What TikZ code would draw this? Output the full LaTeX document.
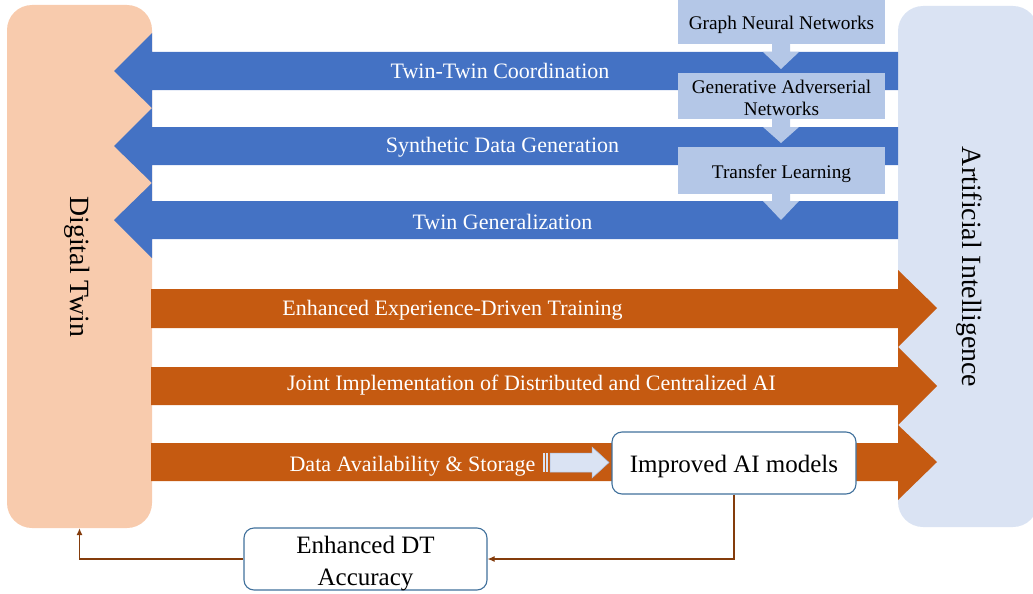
\documentclass[tikz,border=0pt]{standalone}
\usepackage{fontspec}
\setmainfont{Liberation Serif}
\usetikzlibrary{arrows.meta}
\definecolor{dtfill}{HTML}{F8CBAD}
\definecolor{aifill}{HTML}{DAE3F3}
\definecolor{bluebar}{HTML}{4472C4}
\definecolor{orangebar}{HTML}{C55A11}
\definecolor{lightbox}{HTML}{B4C7E7}
\definecolor{boxborder}{HTML}{41719C}
\definecolor{brownline}{HTML}{843C0C}
\definecolor{stripeline}{HTML}{A9BEE0}
\tikzset{
  bigbox/.style={inner sep=0pt, rounded corners=25pt},
  barlabel/.style={text=white, font=\fontsize{22}{26}\selectfont, inner sep=0pt},
  techbox/.style={fill=lightbox, inner sep=0pt, minimum width=207pt},
  techlabel/.style={inner sep=0pt, align=center, font=\fontsize{19.3}{22}\selectfont},
  resultbox/.style={draw=boxborder, line width=1.1pt, fill=white, rounded corners=10pt, inner sep=0pt, minimum width=244pt, minimum height=62pt},
  resultlabel/.style={inner sep=0pt, align=center, font=\fontsize{25}{32}\selectfont},
  feedback/.style={draw=brownline, line width=1.1pt, -{Latex[length=7pt,width=6pt]}},
  sidelabel/.style={rotate=-90, font=\fontsize{27.8}{32}\selectfont, inner sep=0pt}
}
\begin{document}
\begin{tikzpicture}[x=1pt,y=-1pt]
\useasboundingbox (0,0) rectangle (1033,594);
% side boxes
\node[bigbox, fill=dtfill, minimum width=145pt, minimum height=523pt] (dt) at (79.5,266.5) {};
\node[bigbox, fill=aifill, minimum width=140pt, minimum height=521pt] (ai) at (968,266.5) {};
\node[sidelabel] (dtl) at (77,267) {Digital Twin};
\node[sidelabel] (ail) at (969.5,267) {Artificial Intelligence};
% blue arrows (AI -> DT)
\fill[bluebar] (898,52) -- (152,52) -- (152,33) -- (114,71) -- (152,108) -- (152,90) -- (898,90) -- cycle;
\fill[bluebar] (898,127) -- (152,127) -- (152,108) -- (114,146) -- (152,183) -- (152,165) -- (898,165) -- cycle;
\fill[bluebar] (898,201) -- (152,201) -- (152,183) -- (114,220) -- (152,258) -- (152,239) -- (898,239) -- cycle;
% orange arrows (DT -> AI)
\fill[orangebar] (151,289) -- (898,289) -- (898,270) -- (937,308) -- (898,347) -- (898,328) -- (151,328) -- cycle;
\fill[orangebar] (151,367) -- (898,367) -- (898,347) -- (937,386) -- (898,425) -- (898,405) -- (151,405) -- cycle;
\fill[orangebar] (151,443) -- (898,443) -- (898,425) -- (937,462) -- (898,500) -- (898,481) -- (151,481) -- cycle;
% bar labels
\node[barlabel] (l1) at (500,71) {Twin-Twin Coordination};
\node[barlabel] (l2) at (502.5,147) {Synthetic Data Generation};
\node[barlabel] (l3) at (502.5,222) {Twin Generalization};
\node[barlabel] (l4) at (452.5,310) {Enhanced Experience-Driven Training};
\node[barlabel] (l5) at (531.5,385) {Joint Implementation of Distributed and Centralized AI};
\node[barlabel] (l6) at (412.5,466) {Data Availability \& Storage};
% technique boxes
\node[techbox, minimum height=46pt] (gnn) at (781.5,21) {};
\node[techbox, minimum height=46pt] (gan) at (781.5,96) {};
\node[techbox, minimum height=47pt] (tl) at (781.5,170.5) {};
\node[techlabel] (gnnl) at ([yshift=-4pt]gnn.center) {Graph Neural Networks};
\node[techlabel] (ganl) at ([yshift=-2pt]gan.center) {Generative Adverserial\\Networks};
\node[techlabel] (tll) at ([yshift=-3pt]tl.center) {Transfer Learning};
% down arrows
\fill[lightbox] (772,44) -- (790,44) -- (790,52) -- (799,52) -- (781,69) -- (763,52) -- (772,52) -- cycle;
\fill[lightbox] (772,119) -- (790,119) -- (790,127) -- (799,127) -- (781,143) -- (763,127) -- (772,127) -- cycle;
\fill[lightbox] (772,194) -- (790,194) -- (790,201) -- (799,201) -- (781,220) -- (763,201) -- (772,201) -- cycle;
% striped arrow
\fill[aifill] (543,453) rectangle (544.6,472);
\fill[aifill] (546.2,453) rectangle (547.8,472);
\draw[stripeline, line width=0.5pt, fill=aifill] (550,453) -- (592,453) -- (592,447) -- (609,462.5) -- (592,478) -- (592,472) -- (550,472) -- cycle;
% result boxes
\node[resultbox] (imp) at (734,463) {};
\node[resultbox, minimum width=243pt] (edt) at (365.5,559) {};
\node[resultlabel] (impl) at ([yshift=-3.5pt]imp.center) {Improved AI models};
\node[resultlabel] (edtl) at ([yshift=-4.5pt]edt.center) {Enhanced DT\\Accuracy};
% feedback connectors
\draw[feedback] (imp.south) |- (edt.east);
\draw[feedback] (edt.west) -| (dt.south);
\end{tikzpicture}
\end{document}
